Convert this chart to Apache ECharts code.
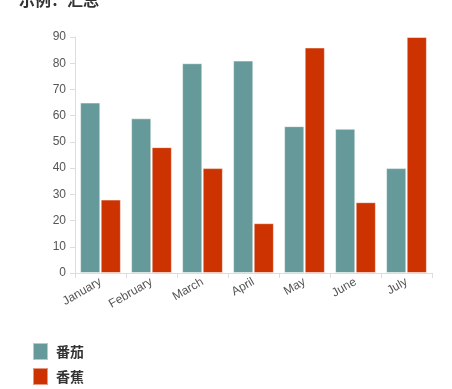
<!DOCTYPE html>
<html><head><meta charset="utf-8">
<script src="https://cdn.jsdelivr.net/npm/echarts@6/dist/echarts.min.js"></script>
<style>html,body{margin:0;padding:0;background:#fff}#c{width:452px;height:389px}</style>
</head><body><div id="c"></div>
<script>
const categories = ['January','February','March','April','May','June','July'];
const tomato = [65, 59, 80, 81, 56, 55, 40];
const banana = [28, 48, 40, 19, 86, 27, 90];
const yTicks = [0,10,20,30,40,50,60,70,80,90];

const chart = echarts.init(document.getElementById('c'), null, {renderer:'canvas'});
chart.setOption({
  animation: false,
  title: {text: '示例：汇总', left: 14, top: -13, textStyle: {fontSize: 16, fontWeight: 'bold', color: '#333', fontFamily: 'Noto Sans CJK SC'}},
  legend: {
    orient: 'vertical', left: 32, top: 342, padding: 0, itemWidth: 15, itemHeight: 17, itemGap: 6,
    icon: 'rect',
    textStyle: {fontSize: 14, fontWeight: 'bold', color: '#333', fontFamily: 'Noto Sans CJK SC', padding: [0,0,0,3]},
    data: ['番茄','香蕉']
  },
  grid: {left: 75, right: 20, top: 37, bottom: 116, containLabel: false},
  xAxis: {
    type: 'category', data: categories, boundaryGap: true,
    axisLine: {lineStyle: {color: '#ddd'}},
    axisTick: {show: true, lineStyle: {color: '#ddd'}, length: 5},
    axisLabel: {rotate: 30, color: '#555', fontSize: 12, fontFamily: 'Liberation Sans', margin: 8}
  },
  yAxis: {
    type: 'value', min: 0, max: 90, interval: 10,
    axisLine: {show: true, lineStyle: {color: '#ddd'}},
    axisTick: {show: true, lineStyle: {color: '#ddd'}, length: 5},
    splitLine: {show: false},
    axisLabel: {color: '#555', fontSize: 12, fontFamily: 'Liberation Sans', margin: 9}
  },
  series: [
    {name: '番茄', type: 'bar', data: tomato, barGap: '2%', barCategoryGap: '20%',
     itemStyle: {color: '#669999', borderColor: 'rgba(255,255,255,0.5)', borderWidth: 1}},
    {name: '香蕉', type: 'bar', data: banana,
     itemStyle: {color: '#cc3300', borderColor: 'rgba(255,255,255,0.5)', borderWidth: 1}}
  ]
});
</script></body></html>
